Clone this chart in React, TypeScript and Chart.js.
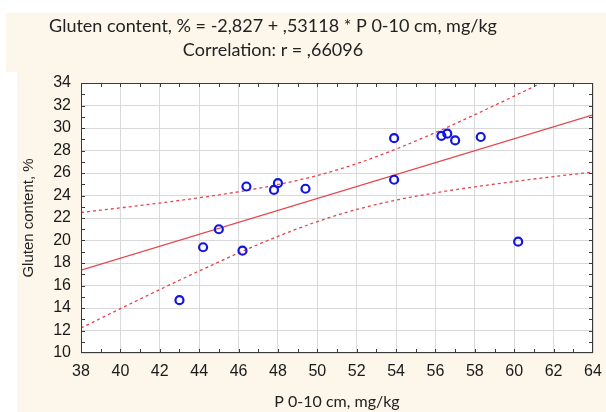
import React, { useEffect, useRef } from "react";
import { Chart, registerables } from "chart.js";

Chart.register(...registerables);

// Phosphorus in the 0-10 cm layer (mg/kg) and gluten content (%) per sample
const phosphorus = [43.0, 44.2, 45.0, 46.2, 46.4, 47.8, 48.0, 49.4, 53.9, 53.9, 56.3, 56.6, 57.0, 58.3, 60.2];
const gluten = [14.7, 19.4, 21.0, 19.1, 24.8, 24.5, 25.1, 24.6, 29.1, 25.4, 29.3, 29.5, 28.9, 29.2, 19.9];

// Fitted regression: Gluten = -2,827 + ,53118 * P
const intercept = -2.827;
const slope = 0.53118;
const correlation = ",66096";
const fitX = [38, 64];

// 95% confidence band around the fit
const bandX = [38, 40, 42, 44, 46, 48, 50, 52, 54, 56, 58, 60, 62, 64];
const bandUpper = [22.49, 22.9, 23.33, 23.8, 24.33, 24.97, 25.78, 26.83, 28.13, 29.6, 31.19, 32.84, 34.54, 36.25];
const bandLower = [12.22, 13.94, 15.64, 17.29, 18.89, 20.37, 21.68, 22.76, 23.59, 24.24, 24.77, 25.24, 25.68, 26.08];

const xRange = [38, 64];
const yRange = [10, 34];

const titleLine1 = "Gluten content, % = -2,827 + ,53118 * P 0-10 cm, mg/kg";
const titleLine2 = "Correlation: r = " + correlation;
const xTitle = "P 0-10 cm, mg/kg";
const yTitle = "Gluten content, %";

const CREAM = "#fcf7ea";
const RED = "#e5454d";
const BLUE = "#1414e0";

const decorPlugin = {
  id: "decor",
  beforeDraw(chart: any) {
    const { ctx, width, height, chartArea } = chart;
    ctx.save();
    ctx.fillStyle = "#ffffff";
    ctx.fillRect(0, 0, width, height);
    ctx.fillStyle = CREAM;
    ctx.fillRect(6, 13, width - 6, 59);
    ctx.fillRect(17, 72, width - 17, height - 72);
    ctx.fillStyle = "#ffffff";
    ctx.fillRect(chartArea.left, chartArea.top, chartArea.right - chartArea.left, chartArea.bottom - chartArea.top);
    ctx.restore();
  },
  afterDraw(chart: any) {
    const { ctx, chartArea, scales } = chart;
    const { left, right, top, bottom } = chartArea;
    ctx.save();
    ctx.strokeStyle = "#3a3a3a";
    ctx.lineWidth = 1;
    ctx.strokeRect(Math.round(left) + 0.5, Math.round(top) + 0.5, Math.round(right - left) - 1, Math.round(bottom - top) - 1);

    // inward tick marks on all four sides, one per unit
    ctx.beginPath();
    for (let v = xRange[0] + 1; v < xRange[1]; v++) {
      const px = Math.round(scales.x.getPixelForValue(v)) + 0.5;
      ctx.moveTo(px, bottom);
      ctx.lineTo(px, bottom - 4);
      ctx.moveTo(px, top);
      ctx.lineTo(px, top + 4);
    }
    for (let v = yRange[0] + 1; v < yRange[1]; v++) {
      const py = Math.round(scales.y.getPixelForValue(v)) + 0.5;
      ctx.moveTo(left, py);
      ctx.lineTo(left + 4, py);
      ctx.moveTo(right, py);
      ctx.lineTo(right - 4, py);
    }
    ctx.stroke();

    // heading
    ctx.fillStyle = "#222222";
    ctx.textAlign = "center";
    ctx.textBaseline = "middle";
    ctx.font = "18px Lato";
    ctx.fillText(titleLine1, 273, 26);
    ctx.fillText(titleLine2, 273, 50);

    // axis titles
    ctx.font = "16px Lato";
    ctx.fillText(xTitle, (left + right) / 2, 402);
    ctx.font = "15px 'Liberation Sans'";
    ctx.translate(29, (top + bottom) / 2);
    ctx.rotate(-Math.PI / 2);
    ctx.fillText(yTitle, 0, 0);
    ctx.restore();
  },
};

export default function App() {
  const canvasRef = useRef<HTMLCanvasElement | null>(null);

  useEffect(() => {
    const canvas = canvasRef.current;
    if (!canvas) return;
    const tickFont = { family: "'Liberation Sans', Arial, sans-serif", size: 16 };
    const chart = new Chart(canvas, {
      type: "scatter",
      data: {
        datasets: [
          {
            label: "Samples",
            data: phosphorus.map((x, i) => ({ x, y: gluten[i] })),
            pointRadius: 4,
            pointBorderWidth: 2.2,
            pointBorderColor: BLUE,
            pointBackgroundColor: "rgba(0,0,0,0)",
            showLine: false,
          },
          {
            label: "Fit",
            data: fitX.map((x) => ({ x, y: intercept + slope * x })),
            showLine: true,
            borderColor: RED,
            borderWidth: 1.3,
            pointRadius: 0,
          },
          {
            label: "Upper 95%",
            data: bandX.map((x, i) => ({ x, y: bandUpper[i] })),
            showLine: true,
            borderColor: RED,
            borderWidth: 1.3,
            borderDash: [3, 3],
            cubicInterpolationMode: "monotone",
            pointRadius: 0,
          },
          {
            label: "Lower 95%",
            data: bandX.map((x, i) => ({ x, y: bandLower[i] })),
            showLine: true,
            borderColor: RED,
            borderWidth: 1.3,
            borderDash: [3, 3],
            cubicInterpolationMode: "monotone",
            pointRadius: 0,
          },
        ],
      },
      options: {
        animation: false,
        responsive: false,
        devicePixelRatio: 1,
        layout: { padding: { left: 0, top: 83, right: 13, bottom: 0 } },
        plugins: { legend: { display: false }, tooltip: { enabled: false }, title: { display: false } },
        scales: {
          x: {
            type: "linear",
            min: xRange[0],
            max: xRange[1],
            ticks: { stepSize: 2, autoSkip: false, color: "#1a1a1a", font: tickFont, padding: 9, maxRotation: 0 },
            grid: { color: "#d9d9d9", drawTicks: false, lineWidth: 1 },
            border: { display: false },
            afterFit: (s: any) => {
              s.height = 59;
              s.paddingLeft = 0;
              s.paddingRight = 0;
            },
          },
          y: {
            type: "linear",
            min: yRange[0],
            max: yRange[1],
            ticks: { stepSize: 2, autoSkip: false, color: "#1a1a1a", font: tickFont, padding: 10 },
            grid: { color: "#d9d9d9", drawTicks: false, lineWidth: 1 },
            border: { display: false },
            afterFit: (s: any) => {
              s.width = 81;
              s.paddingTop = 0;
              s.paddingBottom = 0;
            },
          },
        },
      },
      plugins: [decorPlugin],
    } as any);
    return () => chart.destroy();
  }, []);

  return (
    <div style={{ position: "fixed", left: 0, top: 0, width: 606, height: 412 }}>
      <canvas ref={canvasRef} width={606} height={412} />
    </div>
  );
}
